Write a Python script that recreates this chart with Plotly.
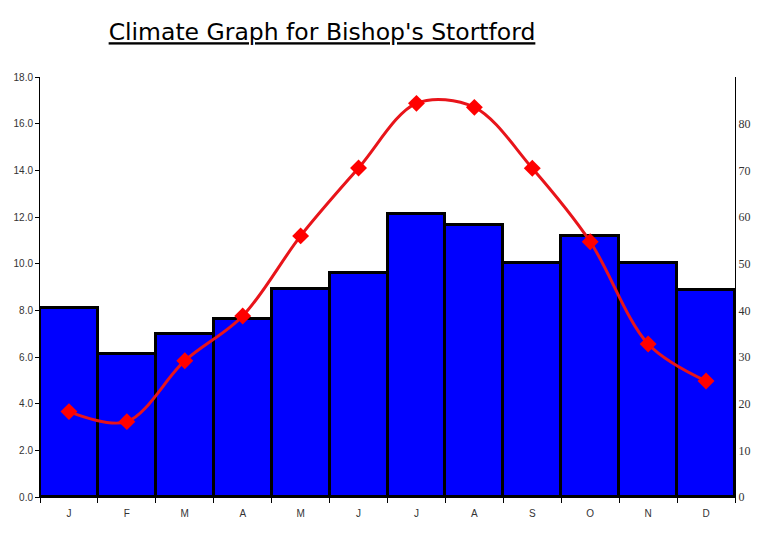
import plotly.graph_objects as go

months = ["J", "F", "M", "A", "M ", "J ", "J  ", "A ", "S", "O", "N", "D"]
rainfall_mm = [40.6, 30.6, 34.9, 38.1, 44.5, 47.9, 60.7, 58.3, 50.2, 56.0, 50.2, 44.4]
temperature_c = [3.66, 3.23, 5.84, 7.76, 11.19, 14.1, 16.87, 16.7, 14.09, 10.94, 6.56, 4.97]
temp_ticks = [0, 2, 4, 6, 8, 10, 12, 14, 16, 18]
rain_ticks = [0, 10, 20, 30, 40, 50, 60, 70, 80]

fig = go.Figure()

# rainfall bars: axis drawn on the right
fig.add_trace(go.Bar(
    x=months,
    y=rainfall_mm,
    yaxis="y",
    marker=dict(color="#0000FF", line=dict(color="black", width=3)),
    showlegend=False,
))

# temperature line: left axis, overlaid so it sits above the bars
fig.add_trace(go.Scatter(
    x=months,
    y=temperature_c,
    yaxis="y2",
    mode="lines+markers",
    line=dict(color="#E8141A", width=3, shape="spline", smoothing=0.95),
    marker=dict(symbol="diamond", size=13, color="#FF0000"),
    showlegend=False,
))

fig.update_layout(
    width=761,
    height=536,
    margin=dict(l=40, r=26, t=77, b=39),
    paper_bgcolor="white",
    plot_bgcolor="white",
    bargap=0,
    title=dict(
        text="<u>Climate Graph for Bishop's Stortford</u>",
        x=322 / 761,
        xanchor="center",
        y=1 - 32 / 536,
        yanchor="middle",
        font=dict(family="DejaVu Sans", size=23.5, color="black"),
    ),
    xaxis=dict(
        type="category",
        range=[-0.5, 11.5],
        tickmode="array",
        tickvals=months,
        ticktext=[m.strip() for m in months],
        tickson="boundaries",
        ticks="outside",
        ticklen=5,
        tickcolor="black",
        ticklabelstandoff=7,
        showline=True,
        linecolor="black",
        linewidth=1,
        showgrid=False,
        tickfont=dict(family="Arial", size=10, color="#333333"),
    ),
    yaxis=dict(
        range=[0, 90],
        tickvals=rain_ticks,
        side="right",
        showline=True,
        linecolor="black",
        linewidth=1,
        showgrid=False,
        zeroline=False,
        ticks="",
        tickfont=dict(family="Liberation Serif", size=12, color="#333333"),
    ),
    yaxis2=dict(
        range=[0, 18],
        tickvals=temp_ticks,
        tickformat=".1f",
        overlaying="y",
        side="left",
        ticks="outside",
        ticklen=4,
        tickcolor="black",
        showline=True,
        linecolor="black",
        linewidth=1,
        showgrid=False,
        zeroline=False,
        tickfont=dict(family="Arial", size=10, color="#333333"),
    ),
)

fig.write_html(
    "out.html",
    config={"displayModeBar": False},
    post_script="document.body.style.margin='0';",
)
